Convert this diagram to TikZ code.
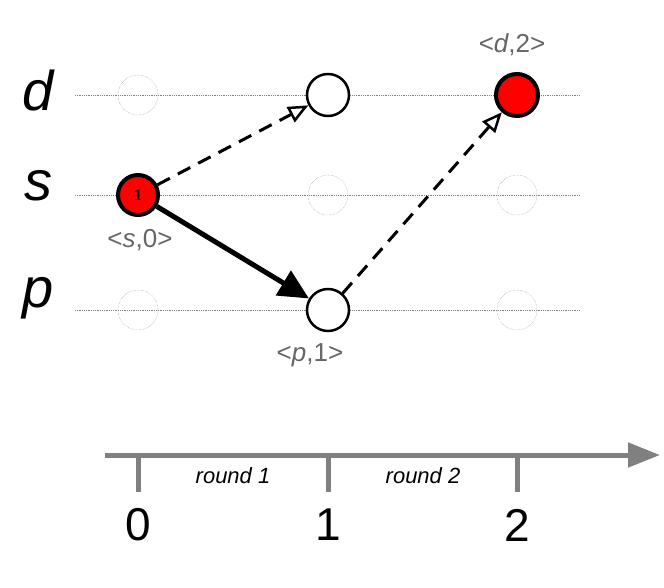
\documentclass[tikz,border=0pt]{standalone}
\usepackage{fontspec}
\setmainfont{Liberation Sans}
\usetikzlibrary{arrows.meta}
\begin{document}
\begin{tikzpicture}[x=1pt,y=-1pt,
  ghost/.style={circle,draw=gray,densely dotted,minimum size=40pt,inner sep=0pt},
  real/.style={circle,draw=black,line width=2.5pt,minimum size=42pt,inner sep=0pt,fill=white},
  redn/.style={real,fill=red,line width=4pt},
  grid/.style={gray,densely dotted,line width=0.8pt},
  lab/.style={text=gray!80!black,font=\fontsize{26}{28}\selectfont},
  rowl/.style={font=\fontsize{56}{60}\selectfont\itshape},
  dashar/.style={line width=3pt,dash pattern=on 14pt off 9pt,-{Triangle[open,length=20pt,width=17pt,line width=2.5pt]}},
  solar/.style={line width=5pt,-{Triangle[length=30pt,width=28pt]}},
  tick/.style={gray,line width=5pt},
  rnd/.style={font=\fontsize{22}{24}\selectfont\itshape},
  num/.style={font=\fontsize{46}{48}\selectfont}]
\useasboundingbox (0,0) rectangle (664,587);
\foreach \y in {95,195,310} \draw[grid] (75,\y) -- (580,\y);
\node[ghost] at (138,95) {};
\node[ghost] at (328,195) {};
\node[ghost] at (517,195) {};
\node[ghost] at (138,310) {};
\node[ghost] at (517,310) {};
\node[rowl] (ld) at (38,90) {d};
\node[rowl] (ls) at (38,186) {s};
\node[rowl] (lp) at (38,298) {p};
\node[redn,minimum size=40pt] (s0) at (138,195) {\fontspec{Liberation Serif}\bfseries\fontsize{16}{16}\selectfont 1};
\node[real] (d1) at (328,95) {};
\node[real] (p1) at (328,310) {};
\node[redn] (d2) at (517,95) {};
\node[lab] (ls0) at (140,240) {<\textit{s},0>};
\node[lab] (lp1) at (310,355) {<\textit{p},1>};
\node[lab] (ld2) at (512,45) {<\textit{d},2>};
\draw[solar] (s0) -- (p1);
\draw[dashar] (s0) -- (d1);
\draw[dashar] (p1) -- (d2);
\coordinate (a0) at (105,455);
\coordinate (a1) at (660,455);
\draw[gray,line width=5pt,-{Triangle[length=32pt,width=24pt]}] (a0) -- (a1);
\foreach \x/\n in {138/0,328/1,517/2}{
  \coordinate (t\n) at (\x,455);
  \coordinate (b\n) at (\x,492);
  \draw[tick] (t\n) -- (b\n);
  \node[num] at (\x,525) {\n};}
\node[rnd] (r1) at (233,476) {round 1};
\node[rnd] (r2) at (423,476) {round 2};
\end{tikzpicture}
\end{document}
